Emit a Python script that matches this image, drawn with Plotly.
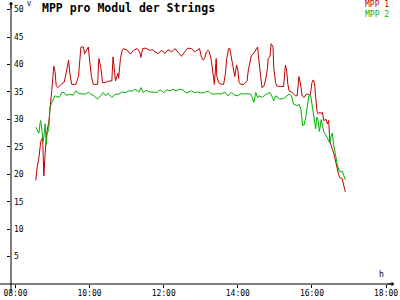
import plotly.graph_objects as go

DAY = "2024-06-01 "

mpp1_time = ["08:33","08:35","08:38","08:41","08:44","08:46","08:48","08:51","08:54","08:56","08:59",
 "09:02","09:04","09:06","09:09","09:14","09:19","09:23","09:26","09:28","09:31","09:38","09:42","09:46",
 "09:50","09:52","09:55","09:58","10:00","10:03","10:06","10:13","10:15","10:18","10:21","10:25","10:31",
 "10:36","10:38","10:40","10:42","10:44","10:46","10:47","10:50","10:53","10:55","11:01","11:06","11:11",
 "11:17","11:21","11:23","11:26","11:31","11:37","11:42","11:46","11:51","11:57","12:02","12:07","12:13",
 "12:18","12:23","12:29","12:34","12:39","12:45","12:50","12:54","12:58","13:01","13:04","13:06","13:09",
 "13:12","13:14","13:17","13:20","13:22","13:25","13:26","13:29","13:33","13:37","13:40","13:42","13:45",
 "13:47","13:50","13:53","13:55","13:58","14:00","14:02","14:05","14:10","14:15","14:17","14:20","14:22",
 "14:25","14:29","14:32","14:33","14:35","14:37","14:39","14:42","14:45","14:48","14:49","14:52","14:54",
 "14:57","14:58","15:01","15:03","15:09","15:14","15:17","15:19","15:21","15:23","15:28","15:33","15:36",
 "15:39","15:42","15:44","15:47","15:51","15:54","15:57","16:00","16:02","16:04","16:06","16:08","16:10",
 "16:13","16:16","16:17","16:19","16:23","16:25","16:27","16:29","16:31","16:35","16:37","16:40","16:43",
 "16:45","16:49","16:52","16:54"]
mpp1_volt = [18.9,21.2,23.0,26.0,26.7,19.7,23.7,27.8,29.5,32.5,35.5,
 39.7,38.8,36.1,35.8,36.4,36.8,39.0,40.8,38.4,36.4,36.4,37.8,43.2,
 43.2,42.0,42.6,43.2,40.8,37.8,36.4,36.4,41.1,39.6,36.7,36.7,37.0,
 37.0,41.4,39.0,37.0,37.8,38.4,37.5,41.1,42.6,42.9,42.6,41.9,42.6,
 42.9,42.3,41.3,42.9,43.0,42.6,42.7,42.3,42.0,42.6,42.0,42.7,42.3,
 42.9,42.3,41.5,42.3,43.0,42.9,42.3,42.6,42.9,41.4,40.8,41.1,42.3,
 42.6,42.3,40.8,38.4,36.4,41.1,37.8,36.7,36.4,36.4,38.4,41.1,42.9,
 42.9,41.1,39.0,37.8,39.9,39.0,36.7,36.4,36.4,37.0,39.0,41.1,41.7,
 41.9,42.6,43.2,41.9,39.6,37.0,35.8,36.0,37.2,39.3,41.1,41.4,43.8,
 43.2,39.6,36.7,36.1,36.0,36.0,39.9,39.0,36.4,35.2,34.9,34.3,34.3,
 37.8,36.1,34.3,34.0,34.6,34.6,34.3,36.7,37.2,36.7,33.7,31.6,31.0,
 31.3,31.0,31.3,29.8,30.0,29.2,29.8,26.0,25.4,23.9,23.0,21.2,20.0,
 19.4,19.2,17.7,16.8]

mpp2_time = ["08:33","08:35","08:38","08:40","08:41","08:43","08:45","08:47","08:48","08:50","08:51",
 "08:54","08:55","08:56","08:59","09:02","09:04","09:09","09:11","09:15","09:19","09:22","09:28","09:33",
 "09:38","09:43","09:48","09:54","09:58","10:02","10:07","10:13","10:18","10:22","10:26","10:30","10:31",
 "10:36","10:42","10:47","10:53","10:58","11:04","11:09","11:14","11:20","11:23","11:27","11:31","11:38",
 "11:42","11:49","11:54","12:00","12:05","12:10","12:15","12:20","12:26","12:31","12:36","12:39","12:45",
 "12:50","12:55","13:01","13:06","13:12","13:17","13:22","13:28","13:33","13:39","13:44","13:50","13:55",
 "14:00","14:05","14:11","14:16","14:21","14:23","14:26","14:29","14:32","14:34","14:40","14:43","14:48",
 "14:52","14:56","14:58","15:01","15:04","15:08","15:14","15:19","15:23","15:27","15:30","15:36","15:39",
 "15:42","15:45","15:47","15:50","15:53","15:55","15:58","16:01","16:03","16:06","16:08","16:10","16:12",
 "16:15","16:17","16:19","16:22","16:26","16:29","16:31","16:33","16:35","16:38","16:41","16:44","16:47",
 "16:49","16:52","16:54"]
mpp2_volt = [28.6,28.1,27.5,29.5,29.8,27.8,26.0,27.8,29.2,25.4,27.2,
 28.3,30.7,32.2,33.1,33.7,34.3,34.1,34.0,34.9,34.9,34.4,34.6,34.4,
 35.2,34.7,34.7,34.6,35.0,34.6,34.3,33.7,34.3,34.9,34.3,34.8,34.6,
 34.0,34.6,34.6,35.0,34.9,35.2,35.2,35.5,35.0,35.8,34.9,35.3,35.0,
 35.0,34.9,35.4,34.9,35.4,35.2,35.5,35.2,35.5,35.4,34.8,34.9,35.2,
 34.9,35.0,34.8,34.9,35.2,34.7,34.6,34.7,34.6,35.0,34.3,34.9,34.4,
 34.3,34.7,34.6,34.7,34.6,34.0,33.1,34.9,34.0,34.3,34.0,34.4,34.6,
 34.9,34.0,33.4,34.3,34.0,33.7,33.8,34.3,34.6,34.3,32.8,32.5,32.8,
 31.9,28.9,28.9,30.4,32.8,34.3,34.3,31.9,29.8,28.3,30.4,29.8,27.8,
 30.0,28.9,27.8,27.2,26.3,25.7,26.9,27.5,25.4,23.3,21.8,20.6,20.4,
 20.6,19.4,19.0]

series_names = ["MPP 1", "MPP 2"]
series_colors = ["#c00000", "#00b000"]
x_ticks = ["08:00", "10:00", "12:00", "14:00", "16:00", "18:00"]
y_ticks = [5, 10, 15, 20, 25, 30, 35, 40, 45, 50]

MONO = "DejaVu Sans Mono"

fig = go.Figure()
for name, times, volts, col in [(series_names[0], mpp1_time, mpp1_volt, series_colors[0]),
                                (series_names[1], mpp2_time, mpp2_volt, series_colors[1])]:
    fig.add_trace(go.Scatter(x=[DAY + t for t in times], y=volts, mode="lines", name=name,
                             line=dict(color=col, width=1), showlegend=False))

fig.update_layout(
    width=400, height=300,
    margin=dict(l=11, r=2, t=2, b=9),
    paper_bgcolor="white", plot_bgcolor="white",
    font=dict(family=MONO, size=8, color="black"),
    xaxis=dict(type="date", range=[DAY + "07:52:48", DAY + "18:12:48"],
               tickvals=[DAY + t for t in x_ticks], ticktext=x_ticks,
               showgrid=False, zeroline=False, showline=False,
               ticks="outside", ticklen=3, tickcolor="black", tickwidth=1,
               ticklabeloverflow="allow",
               tickfont=dict(family=MONO, size=8, color="black"), ticklabelstandoff=-2),
    yaxis=dict(range=[0, 51.4], tickvals=y_ticks, ticktext=[str(v) for v in y_ticks],
               showgrid=False, zeroline=False, showline=False,
               ticks="outside", ticklen=3, tickcolor="black", tickwidth=1,
               ticklabelposition="inside", ticklabeloverflow="allow",
               tickfont=dict(family=MONO, size=8, color="black")),
    shapes=[
        dict(type="line", xref="paper", yref="paper", x0=-11/387, x1=1, y0=0, y1=0,
             line=dict(color="black", width=1)),
        dict(type="line", xref="paper", yref="paper", x0=0, x1=0, y0=-9/289, y1=1,
             line=dict(color="black", width=1)),
    ],
    annotations=[
        dict(text="<b>MPP pro Modul der Strings</b>", xref="paper", yref="paper",
             x=29/387, y=1.0, xanchor="left", yanchor="middle", showarrow=False,
             font=dict(family=MONO, size=11.5, color="black"), yshift=-6),
        dict(text="V", xref="paper", yref="paper", x=0, y=1, xanchor="left", yanchor="middle",
             showarrow=False, xshift=15, yshift=-2, borderpad=0,
             font=dict(family=MONO, size=7)),
        dict(text="h", xref="paper", yref="paper", x=1, y=0, xanchor="right", yanchor="middle",
             showarrow=False, xshift=-8, yshift=10, font=dict(family=MONO, size=8)),
        dict(text=series_names[0], xref="paper", yref="paper", x=1, y=1, xanchor="right",
             yanchor="middle", showarrow=False, xshift=-4, yshift=-2.5, borderpad=0,
             font=dict(family=MONO, size=8, color=series_colors[0])),
        dict(text=series_names[1], xref="paper", yref="paper", x=1, y=1, xanchor="right",
             yanchor="middle", showarrow=False, xshift=-4, yshift=-12, borderpad=0,
             font=dict(family=MONO, size=8, color=series_colors[1])),
        dict(xref="paper", yref="paper", x=0, y=1, ax=0, ay=8, showarrow=True,
             arrowhead=1, arrowsize=0.8, arrowwidth=1, arrowcolor="black", text=""),
        dict(xref="paper", yref="paper", x=1, y=0, ax=-8, ay=0, showarrow=True,
             arrowhead=1, arrowsize=0.8, arrowwidth=1, arrowcolor="black", text=""),
    ],
)

fig.write_html("out.html")
